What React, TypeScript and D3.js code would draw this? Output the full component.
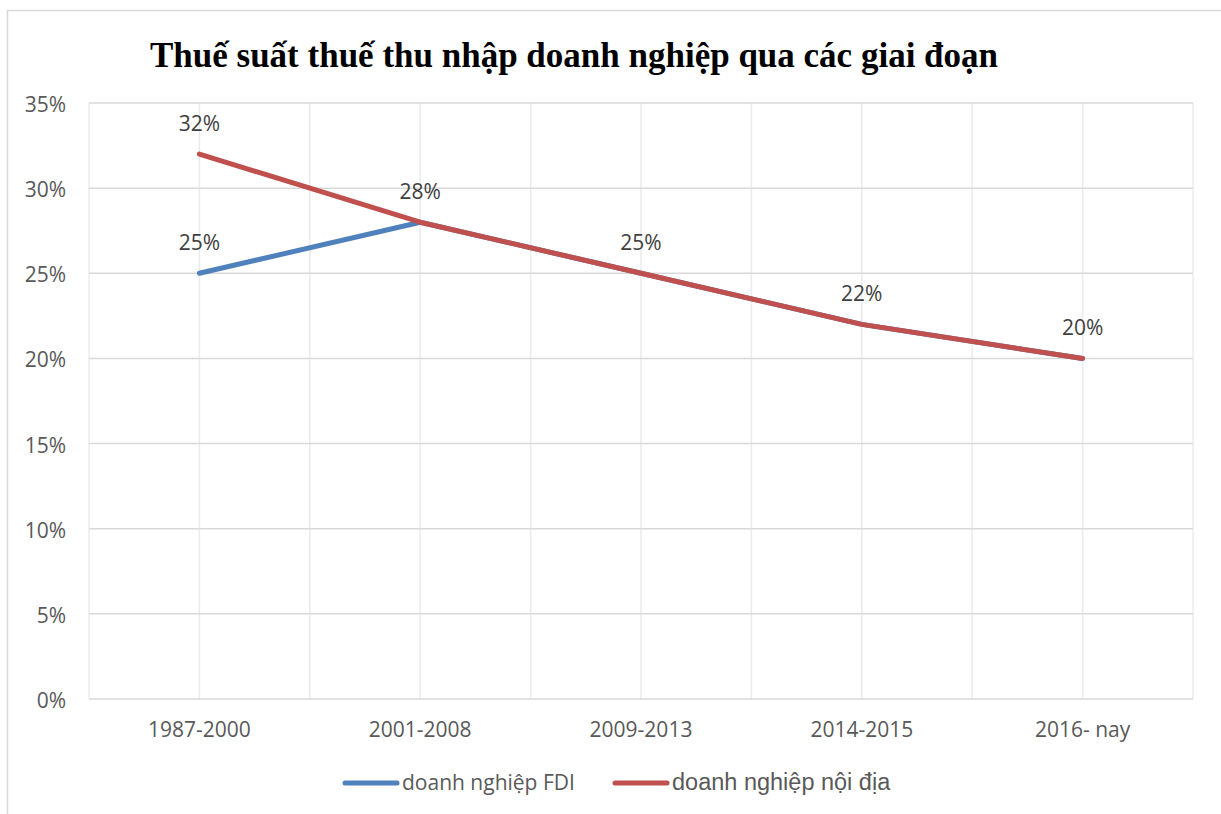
import React from "react";
import * as d3 from "d3";

const categories = ["1987-2000", "2001-2008", "2009-2013", "2014-2015", "2016- nay"];
const fdiValues = [0.25, 0.28, 0.25, 0.22, 0.2];
const domesticValues = [0.32, 0.28, 0.25, 0.22, 0.2];
const yTicks = [0, 0.05, 0.1, 0.15, 0.2, 0.25, 0.3, 0.35];
const seriesNames = ["doanh nghiệp FDI", "doanh nghiệp nội địa"];
const titleText = "Thuế suất thuế thu nhập doanh nghiệp qua các giai đoạn";

const W = 1221;
const H = 814;
const plot = { left: 89, right: 1193, top: 103, bottom: 699 };
const BLUE = "#4F81BD";
const RED = "#C0504D";
const SANS = "'Open Sans', 'Noto Sans', sans-serif";
const FS = 21;

export default function App() {
  const x = d3.scalePoint<string>().domain(categories).range([plot.left, plot.right]).padding(0.5);
  const y = d3.scaleLinear().domain([0, 0.35]).range([plot.bottom, plot.top]);
  const step = x.step();
  const vLines: number[] = [];
  categories.forEach((c, i) => {
    const cx = x(c) as number;
    if (i === 0) vLines.push(cx - step / 2);
    vLines.push(cx);
    vLines.push(cx + step / 2);
  });
  const line = d3
    .line<number>()
    .x((_, i) => x(categories[i]) as number)
    .y((v) => y(v));
  const pct = d3.format(".0%");

  return (
    <svg
      width={W}
      height={H}
      style={{ position: "absolute", left: 0, top: 0, background: "#fff" }}
    >
      <rect x={0} y={0} width={W} height={H} fill="#fff" />
      {/* outer chart border */}
      <line x1={7.5} x2={7.5} y1={10} y2={H} stroke="#d9d9d9" strokeWidth={1.5} />
      <line x1={7} x2={W} y1={10.5} y2={10.5} stroke="#d9d9d9" strokeWidth={1.5} />

      <text
        x={574}
        y={67}
        textAnchor="middle"
        fontFamily="'Liberation Serif', 'Times New Roman', serif"
        fontWeight="bold"
        fontSize={35}
        fill="#000"
      >
        {titleText}
      </text>

      {/* vertical gridlines */}
      {vLines.map((vx, i) => (
        <line
          key={"v" + i}
          x1={vx}
          x2={vx}
          y1={plot.top}
          y2={plot.bottom}
          stroke="#ebebeb"
          strokeWidth={1.5}
        />
      ))}
      {/* horizontal gridlines */}
      {yTicks.map((t) => (
        <line
          key={"h" + t}
          x1={plot.left}
          x2={plot.right}
          y1={y(t)}
          y2={y(t)}
          stroke="#d9d9d9"
          strokeWidth={1.5}
        />
      ))}
      {yTicks.map((t) => (
        <text
          key={"yl" + t}
          x={66}
          y={y(t) + 9}
          textAnchor="end"
          fontFamily={SANS}
          fontSize={FS}
          fill="#595959"
        >
          {pct(t)}
        </text>
      ))}
      {categories.map((c) => (
        <text
          key={"xl" + c}
          x={x(c) as number}
          y={737}
          textAnchor="middle"
          fontFamily={SANS}
          fontSize={FS}
          fill="#595959"
        >
          {c}
        </text>
      ))}

      <path d={line(fdiValues) || ""} fill="none" stroke={BLUE} strokeWidth={5} strokeLinecap="round" strokeLinejoin="round" />
      <path d={line(domesticValues) || ""} fill="none" stroke={RED} strokeWidth={5} strokeLinecap="round" strokeLinejoin="round" />

      {fdiValues.map((v, i) =>
        v !== domesticValues[i] ? (
          <text
            key={"fl" + i}
            x={x(categories[i]) as number}
            y={y(v) - 23}
            textAnchor="middle"
            fontFamily={SANS}
            fontSize={FS}
            fill="#404040"
          >
            {pct(v)}
          </text>
        ) : null
      )}
      {domesticValues.map((v, i) => (
        <text
          key={"dl" + i}
          x={x(categories[i]) as number}
          y={y(v) - 23}
          textAnchor="middle"
          fontFamily={SANS}
          fontSize={FS}
          fill="#404040"
        >
          {pct(v)}
        </text>
      ))}

      {/* legend */}
      <line x1={345} x2={397} y1={783} y2={783} stroke={BLUE} strokeWidth={5} strokeLinecap="round" />
      <text x={402} y={790} fontFamily={SANS} fontSize={FS} fill="#595959">
        {seriesNames[0]}
      </text>
      <line x1={615} x2={667} y1={783} y2={783} stroke={RED} strokeWidth={5} strokeLinecap="round" />
      <text x={672} y={790} fontFamily="'Liberation Sans', Arial, sans-serif" fontSize={23.5} fill="#595959">
        {seriesNames[1]}
      </text>
    </svg>
  );
}
